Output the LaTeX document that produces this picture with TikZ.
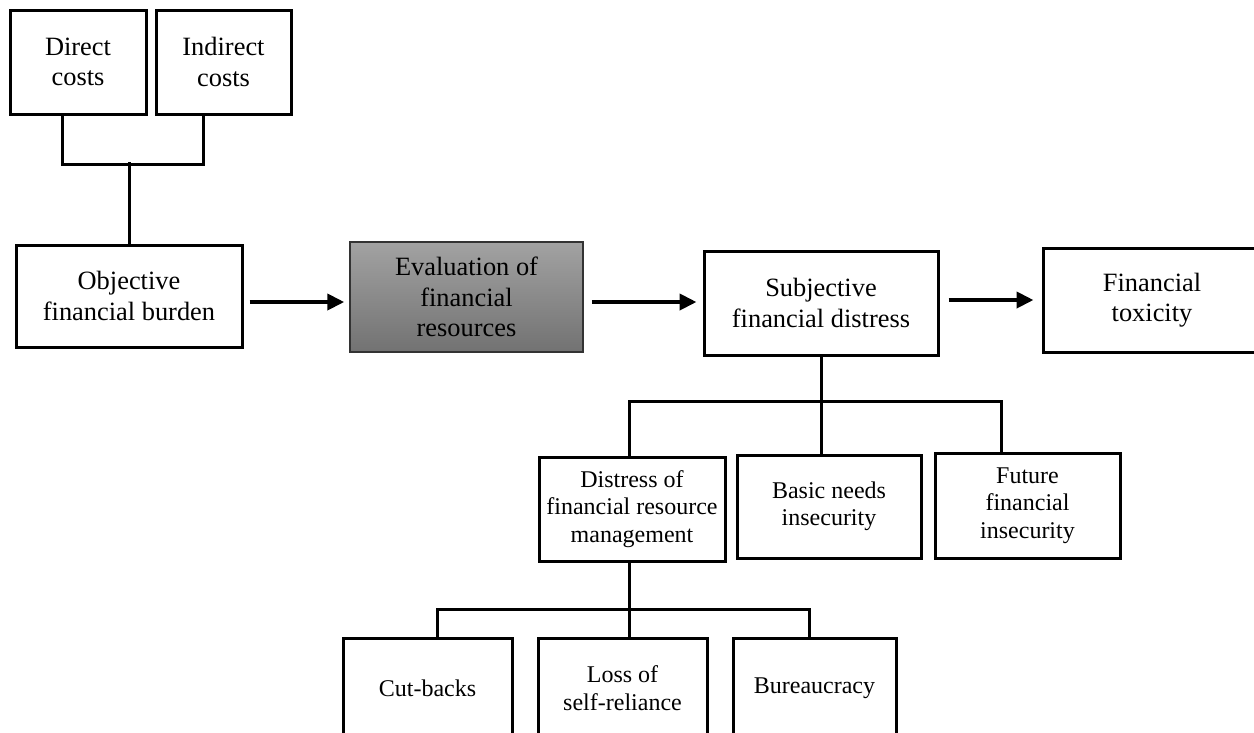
\documentclass[tikz,border=0pt]{standalone}
\usepackage{fontspec}
\setmainfont{Liberation Serif}
\usetikzlibrary{arrows.meta}
\definecolor{evtop}{HTML}{A2A2A2}
\definecolor{evbot}{HTML}{727272}
\tikzset{
  bigbox/.style={draw=black, line width=3pt, rectangle, inner sep=0pt, align=center,
    font=\fontsize{26.4}{30.5}\selectfont},
  smallbox/.style={draw=black, line width=3pt, rectangle, inner sep=0pt, align=center,
    font=\fontsize{24}{27.5}\selectfont},
  shadebox/.style={draw=black!80, line width=1.5pt, rectangle, inner sep=0pt, align=center,
    top color=evtop, bottom color=evbot, font=\fontsize{26.4}{30.5}\selectfont},
  ln/.style={line width=3pt, draw=black},
  arr/.style={line width=4pt, draw=black, -{Triangle[length=17pt,width=16pt]}}
}
\begin{document}
\begin{tikzpicture}[x=1pt,y=-1pt]
\useasboundingbox (0,0) rectangle (1254,732);
\clip (0,0) rectangle (1254,732);
\fill[white] (0,0) rectangle (1254,732);

\node[bigbox, minimum width=136pt, minimum height=104pt] (direct) at (78,62) {Direct\\costs};
\node[bigbox, minimum width=135pt, minimum height=104pt] (indirect) at (223.5,62) {Indirect\\costs};
\node[bigbox, minimum width=226pt, minimum height=102pt] (obj) at (129,296) {Objective\\financial burden};
\node[shadebox, minimum width=233pt, minimum height=110pt] (eval) at (466.5,297) {Evaluation of\\financial\\resources};
\node[bigbox, minimum width=234pt, minimum height=104pt] (subj) at (821,303) {Subjective\\financial distress};
\node[bigbox, minimum width=218pt, minimum height=104pt] (tox) at (1152,300) {Financial\\toxicity};

\node[smallbox, minimum width=186pt, minimum height=104pt] (distress) at (632,509) {Distress of\\financial resource\\management};
\node[smallbox, minimum width=184pt, minimum height=103pt] (basic) at (829,506.5) {Basic needs\\insecurity};
\node[smallbox, minimum width=185pt, minimum height=105pt] (future) at (1027.5,505.5) {Future\\financial\\insecurity};

\node[smallbox, minimum width=169pt, minimum height=100pt] (cut) at (427.5,688) {Cut-backs};
\node[smallbox, minimum width=169pt, minimum height=100pt] (loss) at (622.5,688) {Loss of\\self-reliance};
\node[smallbox, minimum width=163pt, minimum height=100pt] (bur) at (814.5,688) {Bureaucracy};

% top tree
\draw[ln] ([xshift=-16pt]direct.south) -- ++(0,49) -| ([xshift=-20.5pt]indirect.south);
\draw[ln] (obj.north) -- ++(0,-82);

% main arrows
\coordinate (r1) at (0,302);
\coordinate (r2) at (0,300);
\draw[arr, shorten <=6pt, shorten >=5pt] (obj.east |- r1) -- (eval.west |- r1);
\draw[arr, shorten <=8pt, shorten >=6pt] (eval.east |- r1) -- (subj.west |- r1);
\draw[arr, shorten <=9pt, shorten >=8pt] (subj.east |- r2) -- (tox.west |- r2);

% middle tree
\draw[ln] (subj.south) -- ([xshift=-8pt]basic.north);
\draw[ln] ([xshift=-3pt]distress.north) -- ++(0,-54) -| ([xshift=-26.5pt]future.north);

% bottom tree
\draw[ln] ([xshift=-3pt]distress.south) -- ([xshift=6.5pt]loss.north);
\draw[ln] ([xshift=9.5pt]cut.north) -- ++(0,-27) -| ([xshift=-5.5pt]bur.north);
\end{tikzpicture}
\end{document}
